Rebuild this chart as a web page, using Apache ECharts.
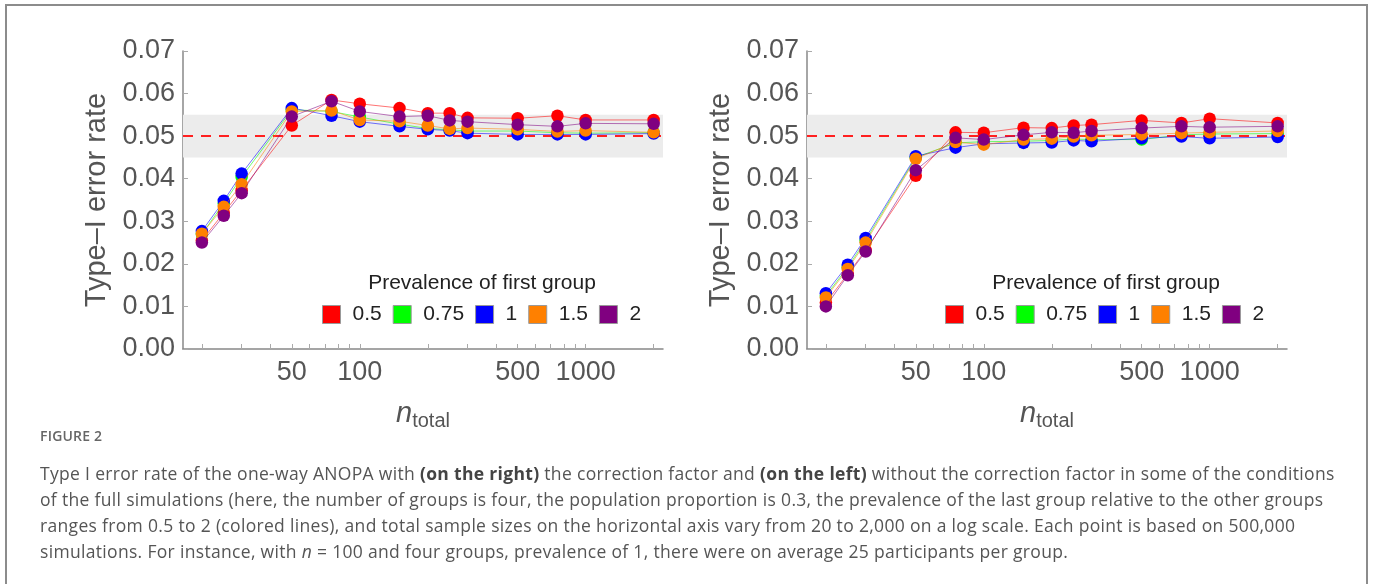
<!DOCTYPE html>
<html>
<head>
<meta charset="utf-8">
<script src="https://cdn.jsdelivr.net/npm/echarts@6/dist/echarts.min.js"></script>
<style>
  html, body { margin: 0; padding: 0; background: #fff; }
  #frame { position: absolute; left: 5px; top: 4px; width: 1363px; height: 620px; border: 2px solid #8c8c8c; box-sizing: border-box; }
  #main { position: absolute; left: 0; top: 0; width: 1373px; height: 584px; }
  #caption { position: absolute; left: 40px; top: 426px; width: 1320px; font-family: "Open Sans", "Noto Sans", sans-serif; color: #555; }
  #caption .fig { font-size: 14px; font-weight: 600; color: #666; letter-spacing: 0.2px; }
  #caption p { margin: 15px 0 0 0; font-size: 17.5px; line-height: 26px; letter-spacing: 0.32px; white-space: nowrap; }
  #caption b { font-weight: 700; color: #444; }
</style>
</head>
<body>
<div id="frame"></div>
<div id="main"></div>
<div id="caption">
  <div class="fig">FIGURE 2</div>
  <p>Type I error rate of the one-way ANOPA with <b>(on the right)</b> the correction factor and <b>(on the left)</b> without the correction factor in some of the conditions<br>of the full simulations (here, the number of groups is four, the population proportion is 0.3, the prevalence of the last group relative to the other groups<br>ranges from 0.5 to 2 (colored lines), and total sample sizes on the horizontal axis vary from 20 to 2,000 on a log scale. Each point is based on 500,000<br>simulations. For instance, with <i>n</i> = 100 and four groups, prevalence of 1, there were on average 25 participants per group.</p>
</div>
<script>
var nTotal = [20, 25, 30, 50, 75, 100, 150, 200, 250, 300, 500, 750, 1000, 2000];
var prevalence = ['0.5', '0.75', '1', '1.5', '2'];
var colors = ['#ff0000', '#00ff00', '#0000ff', '#ff8000', '#800080'];
var xLabels = [50, 100, 500, 1000];
var xTicks = [20, 30, 40, 50, 60, 70, 80, 90, 100, 200, 300, 400, 500, 600, 700, 800, 900, 1000, 2000];

// left panel: without correction
var left05  = [0.0255, 0.0320, 0.0373, 0.0525, 0.0585, 0.0576, 0.0566, 0.0554, 0.0554, 0.0543, 0.0542, 0.0548, 0.0538, 0.0538];
var left075 = [0.0270, 0.0342, 0.0404, 0.0562, 0.0558, 0.0545, 0.0528, 0.0518, 0.0515, 0.0512, 0.0512, 0.0508, 0.0507, 0.0508];
var left1   = [0.0277, 0.0348, 0.0412, 0.0566, 0.0548, 0.0534, 0.0523, 0.0516, 0.0513, 0.0507, 0.0504, 0.0504, 0.0504, 0.0506];
var left15  = [0.0271, 0.0334, 0.0387, 0.0558, 0.0560, 0.0538, 0.0535, 0.0525, 0.0517, 0.0519, 0.0516, 0.0511, 0.0513, 0.0509];
var left2   = [0.0250, 0.0313, 0.0366, 0.0546, 0.0582, 0.0558, 0.0546, 0.0548, 0.0537, 0.0534, 0.0527, 0.0523, 0.0530, 0.0529];

// right panel: with correction
var right05  = [0.0109, 0.0176, 0.0232, 0.0407, 0.0509, 0.0508, 0.0520, 0.0519, 0.0525, 0.0527, 0.0537, 0.0531, 0.0541, 0.0531];
var right075 = [0.0125, 0.0192, 0.0255, 0.0450, 0.0484, 0.0487, 0.0488, 0.0490, 0.0493, 0.0492, 0.0492, 0.0503, 0.0505, 0.0506];
var right1   = [0.0131, 0.0198, 0.0261, 0.0453, 0.0473, 0.0482, 0.0484, 0.0485, 0.0490, 0.0488, 0.0495, 0.0499, 0.0495, 0.0498];
var right15  = [0.0121, 0.0188, 0.0250, 0.0447, 0.0486, 0.0480, 0.0492, 0.0494, 0.0499, 0.0502, 0.0504, 0.0507, 0.0509, 0.0512];
var right2   = [0.0100, 0.0173, 0.0229, 0.0420, 0.0496, 0.0492, 0.0503, 0.0509, 0.0508, 0.0512, 0.0519, 0.0523, 0.0521, 0.0523];

var panels = [
  [left05, left075, left1, left15, left2],
  [right05, right075, right1, right15, right2]
];

var myChart = echarts.init(document.getElementById('main'));
var font = '"Liberation Sans", Arial, sans-serif';

function pairs(vals) {
  return nTotal.map(function (n, i) { return [n, vals[i]]; });
}

var grids = [
  { left: 183, right: 710, top: 51, height: 298, outerBoundsMode: 'none' },
  { left: 807, right: 86, top: 51, height: 298, outerBoundsMode: 'none' }
];
var xAxes = [], yAxes = [], series = [], legends = [], titles = [];

[0, 1].forEach(function (g) {
  xAxes.push({
    type: 'log', gridIndex: g, min: 16.5, max: 2200,
    axisLine: { lineStyle: { color: '#888', width: 1.5 } },
    axisTick: { inside: true, length: 5, customValues: xTicks, lineStyle: { color: '#aaa' } },
    axisLabel: { customValues: xLabels, fontSize: 27, color: '#555', fontFamily: font, margin: 10,
      formatter: function (v) { return String(Math.round(v)); } },
    splitLine: { show: false },
    name: '{n|n}{s|total}', nameLocation: 'middle', nameGap: 48,
    nameTextStyle: {
      rich: {
        n: { fontSize: 29, fontStyle: 'italic', color: '#555', fontFamily: font },
        s: { fontSize: 20, color: '#555', fontFamily: font, padding: [14, 0, 0, 0] }
      }
    }
  });
  yAxes.push({
    type: 'value', gridIndex: g, min: 0, max: 0.07, interval: 0.01,
    axisLine: { show: true, lineStyle: { color: '#888', width: 1.5 } },
    axisTick: { show: true, inside: true, length: 5, lineStyle: { color: '#aaa' } },
    axisLabel: { fontSize: 27, color: '#555', fontFamily: font, margin: 8,
      formatter: function (v) { return v.toFixed(2); } },
    splitLine: { show: false },
    name: 'Type\u2013I error rate', nameLocation: 'middle', nameGap: 72,
    nameTextStyle: { fontSize: 29, color: '#555', fontFamily: font }
  });

  // tolerance band and nominal level
  series.push({
    type: 'line', xAxisIndex: g, yAxisIndex: g, data: [], z: 1, silent: true,
    markArea: { silent: true, itemStyle: { color: '#ececec' }, data: [[{ yAxis: 0.045 }, { yAxis: 0.055 }]] },
    markLine: { silent: true, symbol: 'none', label: { show: false },
      lineStyle: { color: '#ff2020', width: 2, type: [10, 8] }, data: [{ yAxis: 0.05 }] }
  });

  panels[g].forEach(function (vals, k) {
    series.push({
      name: prevalence[k], type: 'line', xAxisIndex: g, yAxisIndex: g,
      data: pairs(vals), symbol: 'circle', symbolSize: 12.5, z: 3 + k,
      color: colors[k],
      lineStyle: { width: 1, color: colors[k], opacity: 0.55 },
      itemStyle: { color: colors[k] },
      emphasis: { disabled: true }
    });
  });

  var cx = g === 0 ? 482 : 1106;
  titles.push({
    text: 'Prevalence of first group', left: cx, top: 273, textAlign: 'center', padding: 0,
    textStyle: { fontSize: 21, fontWeight: 'normal', color: '#222', fontFamily: font }
  });
  legends.push({
    data: prevalence, left: g === 0 ? 322 : 945, top: 304, orient: 'horizontal', padding: 0,
    icon: 'rect', itemWidth: 18, itemHeight: 18, itemGap: 11,
    itemStyle: { borderColor: '#999', borderWidth: 1 },
    textStyle: { fontSize: 21, color: '#222', fontFamily: font, padding: [0, 0, 0, 7] },
    selectedMode: false
  });
});

myChart.setOption({
  animation: false,
  title: titles,
  legend: legends,
  grid: grids,
  xAxis: xAxes,
  yAxis: yAxes,
  series: series
});
</script>
</body>
</html>
